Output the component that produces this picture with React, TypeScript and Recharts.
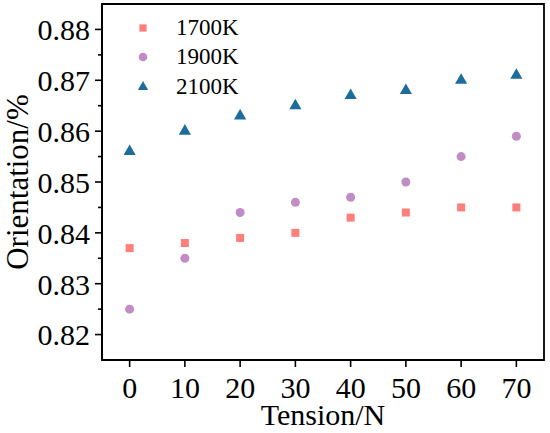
import React from "react";
import {
  Label,
  Legend,
  ReferenceArea,
  Scatter,
  ScatterChart,
  Symbols,
  XAxis,
  YAxis,
} from "recharts";

const tension = [0, 10, 20, 30, 40, 50, 60, 70];
const k1700 = [0.837, 0.838, 0.839, 0.84, 0.843, 0.844, 0.845, 0.845];
const k1900 = [0.825, 0.835, 0.844, 0.846, 0.847, 0.85, 0.855, 0.859];
const k2100 = [0.856, 0.86, 0.863, 0.865, 0.867, 0.868, 0.87, 0.871];

const xTicks = [0, 10, 20, 30, 40, 50, 60, 70];
const yTicks = [
  0.82, 0.825, 0.83, 0.835, 0.84, 0.845, 0.85, 0.855, 0.86, 0.865, 0.87, 0.875,
  0.88,
];

const FONT = "'Liberation Serif', 'Times New Roman', serif";

const series = [
  { name: "1700K", values: k1700, shape: "square", color: "#fd7f7c", size: 52 },
  { name: "1900K", values: k1900, shape: "circle", color: "#c18cc6", size: 58 },
  { name: "2100K", values: k2100, shape: "triangle", color: "#1c6d9c", size: 46 },
] as const;

const toPoints = (vals: readonly number[]) =>
  tension.map((t, i) => ({ x: t, y: vals[i] }));

const TICK_SIZE = 7;
const TICK_MARGIN = 5;

// y ticks: labels on the majors, shorter lines on the halves
function YTick(props: any) {
  const { x, y, payload } = props;
  const v = payload.value as number;
  const major = Math.round(v * 1000) % 10 === 0;
  const axisX = x + TICK_MARGIN + TICK_SIZE;
  return (
    <g>
      <line
        x1={axisX - (major ? TICK_SIZE : 4)}
        x2={axisX}
        y1={y}
        y2={y}
        stroke="#000"
        strokeWidth={1.6}
      />
      {major && (
        <text
          x={x}
          y={y}
          dy="0.36em"
          textAnchor="end"
          fontSize={30}
          fontFamily={FONT}
          fill="#000"
        >
          {v.toFixed(2)}
        </text>
      )}
    </g>
  );
}

function LegendBox() {
  return (
    <div style={{ fontFamily: FONT, fontSize: 23, color: "#000" }}>
      {series.map((s) => (
        <div
          key={s.name}
          style={{ display: "flex", alignItems: "center", height: 29.5 }}
        >
          <svg width={22} height={22} style={{ marginRight: 22 }}>
            <Symbols
              type={s.shape}
              size={s.size}
              cx={11}
              cy={11}
              fill={s.color}
            />
          </svg>
          <span>{s.name}</span>
        </div>
      ))}
    </div>
  );
}

export default function App() {
  return (
    <div style={{ position: "absolute", left: 0, top: 0, background: "#fff" }}>
      <ScatterChart
        width={550}
        height={433}
        margin={{ top: 4, right: 6, bottom: 0, left: 0 }}
      >
        <XAxis
          type="number"
          dataKey="x"
          domain={[-5, 75]}
          ticks={xTicks}
          allowDataOverflow
          height={73}
          tickSize={TICK_SIZE}
          tickMargin={10}
          axisLine={{ stroke: "#000", strokeWidth: 1.8 }}
          tickLine={{ stroke: "#000", strokeWidth: 1.6 }}
          tick={{ fill: "#000", fontSize: 30, fontFamily: FONT }}
        >
          <Label
            value="Tension/N"
            position="insideBottom"
            offset={8}
            style={{ fontSize: 30, fontFamily: FONT, fill: "#000" }}
          />
        </XAxis>
        <YAxis
          type="number"
          dataKey="y"
          domain={[0.815, 0.885]}
          ticks={yTicks}
          interval={0}
          allowDataOverflow
          width={102}
          tickSize={TICK_SIZE}
          tickMargin={TICK_MARGIN}
          tickLine={false}
          axisLine={{ stroke: "#000", strokeWidth: 1.8 }}
          tick={<YTick />}
        >
          <Label
            value="Orientation/%"
            angle={-90}
            position="insideLeft"
            offset={17}
            style={{
              fontSize: 31,
              fontFamily: FONT,
              fill: "#000",
              textAnchor: "middle",
            }}
          />
        </YAxis>
        <ReferenceArea
          x1={-5}
          x2={75}
          y1={0.815}
          y2={0.885}
          fill="none"
          fillOpacity={0}
          stroke="#000"
          strokeWidth={1.8}
        />
        {series.map((s) => (
          <Scatter
            key={s.name}
            name={s.name}
            data={toPoints(s.values)}
            shape={s.shape}
            fill={s.color}
            legendType={s.shape}
            isAnimationActive={false}
          />
        ))}
        <Legend
          layout="vertical"
          verticalAlign="middle"
          align="center"
          content={() => <LegendBox />}
          wrapperStyle={{ top: 13, left: 132, width: "auto" }}
        />
      </ScatterChart>
    </div>
  );
}
